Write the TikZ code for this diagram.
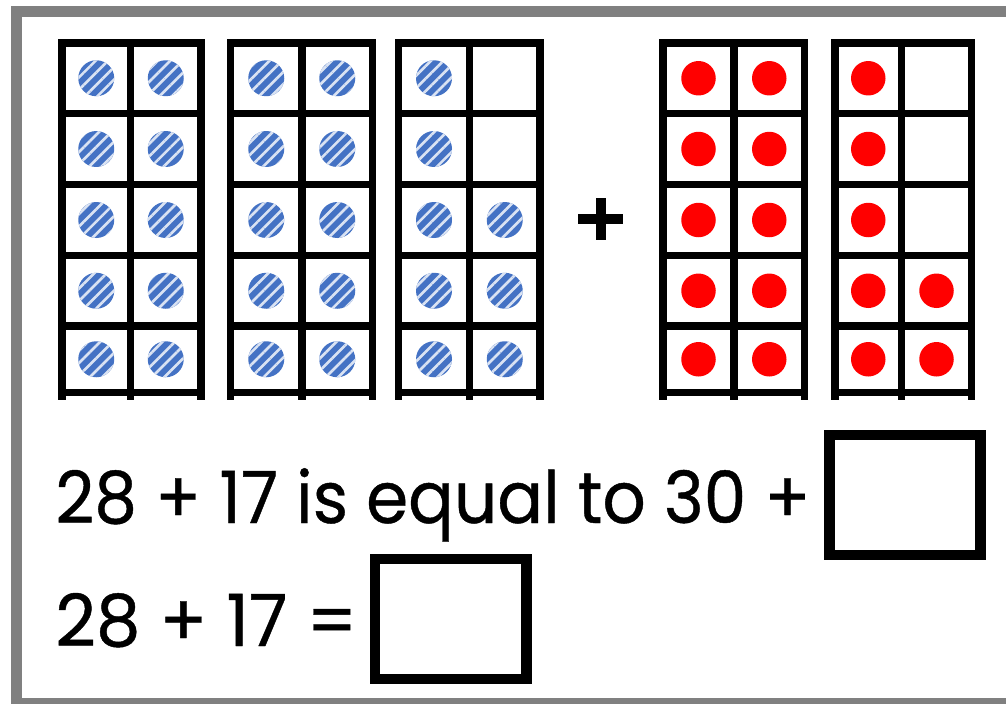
\documentclass[tikz,border=0pt]{standalone}
\usepackage{fontspec}
\setmainfont{Poppins}[FakeBold=0.6]
\usepackage{tikz}
\usetikzlibrary{patterns.meta}
\definecolor{counterblue}{RGB}{68,114,196}
\definecolor{counterred}{RGB}{255,0,0}
\definecolor{framegray}{RGB}{128,128,128}

\begin{document}
\begin{tikzpicture}[
    x=0.02cm, y=-0.02cm,
    gridline/.style={draw=black, line width=4.3pt},
    bluedot/.style={fill=counterblue},
    bluehatch/.style={pattern={Lines[angle=45, distance=5pt, line width=1.5pt]}, pattern color=white!80!counterblue},
    reddot/.style={fill=counterred},
    answerbox/.style={draw=black, line width=6pt, minimum width=3.03cm, minimum height=2.4cm, inner sep=0pt},
    sumtext/.style={font=\fontsize{41}{41}\selectfont, inner sep=0pt, anchor=base west}
]

\clip (0,0) rectangle (1006,703);
\fill[white] (0,0) rectangle (1006,703);

% outer gray border (the right side falls off the page)
\draw[framegray, line width=6.2pt] (16.5,11.5) rectangle (1040,703);

% ten frames: five frames of 2 x 5 cells
\foreach \xa/\xb/\xc in {62/130.5/201, 230.5/302/372.5, 398.5/469.5/540, 663/734/804.5, 835/901.5/971.5} {
    \foreach \y in {43,113.5,184.5,255.5,326,392.5}
        \draw[gridline] (\xa-3,\y) -- (\xc+3,\y);
    \foreach \x in {\xa,\xb,\xc}
        \draw[gridline] (\x,39) -- (\x,400);
}

% blue counters (28)
\foreach \x in {96.25,165.75,266.25,337.25,434}
    \foreach \y in {78.25,149,220,290.75,359.25} {
        \fill[bluedot] (\x,\y) circle[radius=0.36cm];
        \fill[bluehatch] (\x,\y) circle[radius=0.36cm];
    }
\foreach \y in {220,290.75,359.25} {
    \fill[bluedot] (504.75,\y) circle[radius=0.36cm];
    \fill[bluehatch] (504.75,\y) circle[radius=0.36cm];
}

% red counters (17)
\foreach \x in {698.5,769.25,868.25}
    \foreach \y in {78.25,149,220,290.75,359.25}
        \fill[reddot] (\x,\y) circle[radius=0.345cm];
\foreach \y in {290.75,359.25}
    \fill[reddot] (936.5,\y) circle[radius=0.345cm];

% plus sign between the blue and red frames
\draw[black, line width=5.6pt] (601,198) -- (601,240);
\draw[black, line width=5.6pt] (578,219) -- (623,219);

% sentences and answer boxes
\node[sumtext, xscale=0.94] (line1) at (55,523) {28 + 17 is equal to 30 +};
\node[answerbox] (box1) at (905,495) {};
\node[sumtext, xscale=0.98] (line2) at (55,646) {28 + 17 =};
\node[answerbox] (box2) at (450.5,619) {};

\end{tikzpicture}
\end{document}
